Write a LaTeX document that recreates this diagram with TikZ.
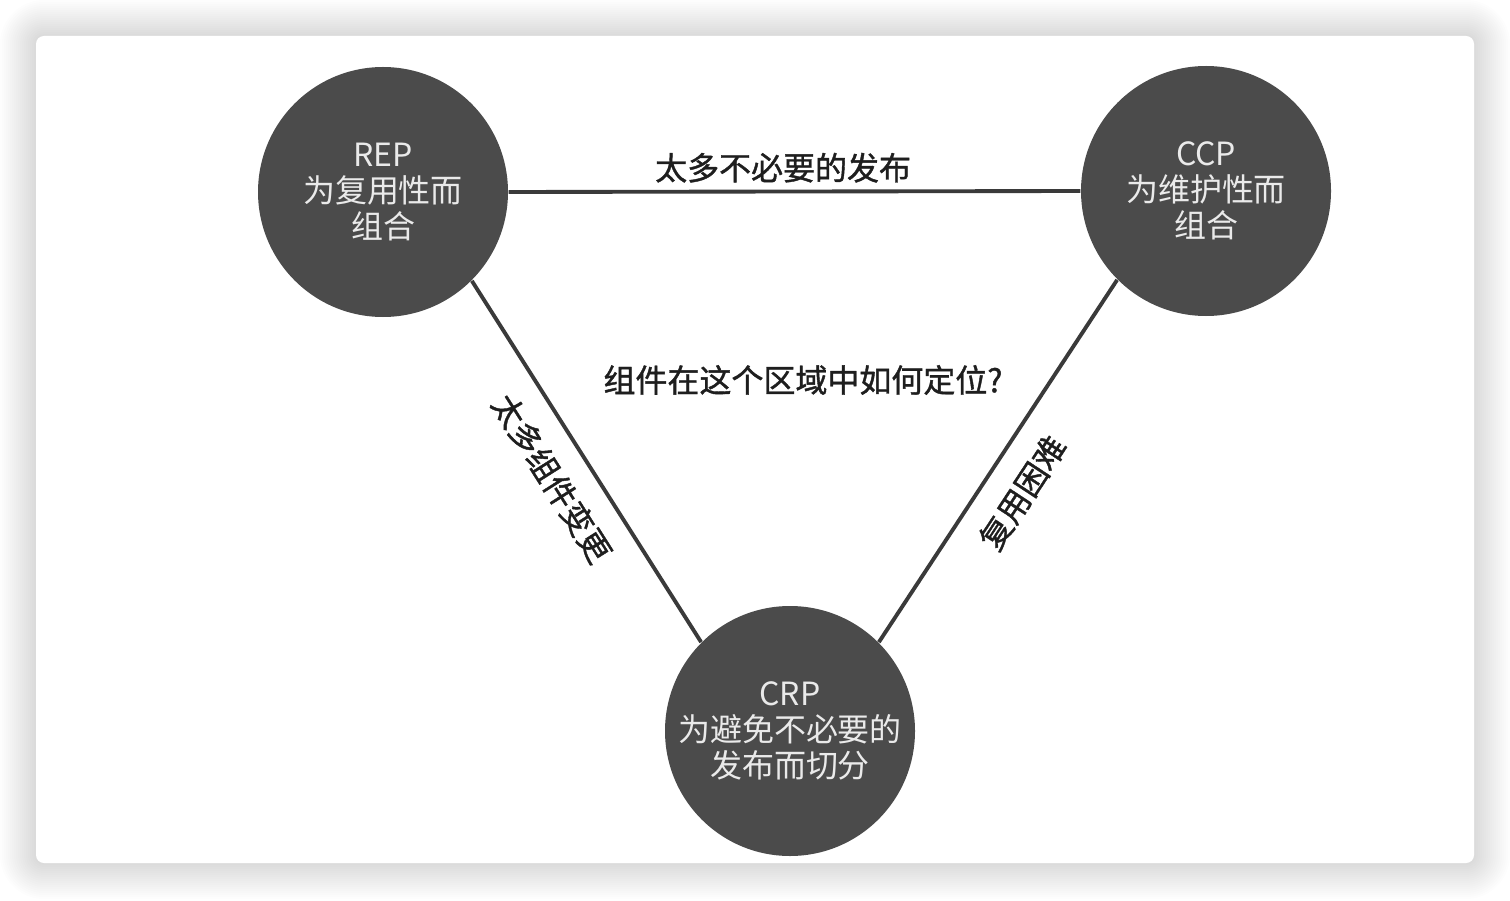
\documentclass[tikz,border=0pt]{standalone}
\usepackage{fontspec}
\newfontfamily\cjk{Noto Sans CJK SC}
\newfontfamily\cjkheavy{Noto Sans CJK SC}[FakeBold=1.2]
\definecolor{disc}{HTML}{4B4B4B}
\definecolor{disctext}{HTML}{EAEAEA}
\definecolor{edgecol}{HTML}{3A3A3A}
\definecolor{labcol}{HTML}{1E1E1E}

\begin{document}
\begin{tikzpicture}[
  principle/.style={circle, fill=disc, minimum size=2.5cm, inner sep=0pt,
    text=disctext, align=center, font=\cjk\fontsize{9.1}{10.3}\selectfont},
  linkline/.style={draw=edgecol, line width=1.1pt},
  note/.style={text=labcol, font=\cjkheavy\fontsize{9.1}{10.3}\selectfont, inner sep=1pt}
]
  \useasboundingbox (0,0) rectangle (15.1,9);

  % card with a soft shadow
  \foreach \s in {0.36,0.34,...,0.01} {
    \fill[black, opacity=0.008, rounded corners=0.08cm+\s cm]
      (0.36-\s,0.37-\s) rectangle (14.74+\s,8.64+\s);
  }
  \fill[white, rounded corners=0.08cm] (0.36,0.37) rectangle (14.74,8.64);

  % the three principles
  \node[principle] (rep) at (3.83,7.08) {REP\\为复用性而\\组合};
  \node[principle] (ccp) at (12.06,7.09) {CCP\\为维护性而\\组合};
  \node[principle] (crp) at (7.90,1.69) {CRP\\为避免不必要的\\发布而切分};

  % tensions between them
  \draw[linkline] (rep.east) -- node[note, pos=0.48, above=1pt] (relnote) {太多不必要的发布} (ccp.west);
  \draw[linkline] (rep.-45) -- node[note, pos=0.49, sloped, below=5pt] (chgnote) {太多组件变更} (crp.135);
  \draw[linkline] (crp.45) -- node[note, pos=0.47, sloped, below=5pt] (reusenote) {复用困难} (ccp.225);

  \node[note] (question) at (8.03,5.20) {组件在这个区域中如何定位?};
\end{tikzpicture}
\end{document}
